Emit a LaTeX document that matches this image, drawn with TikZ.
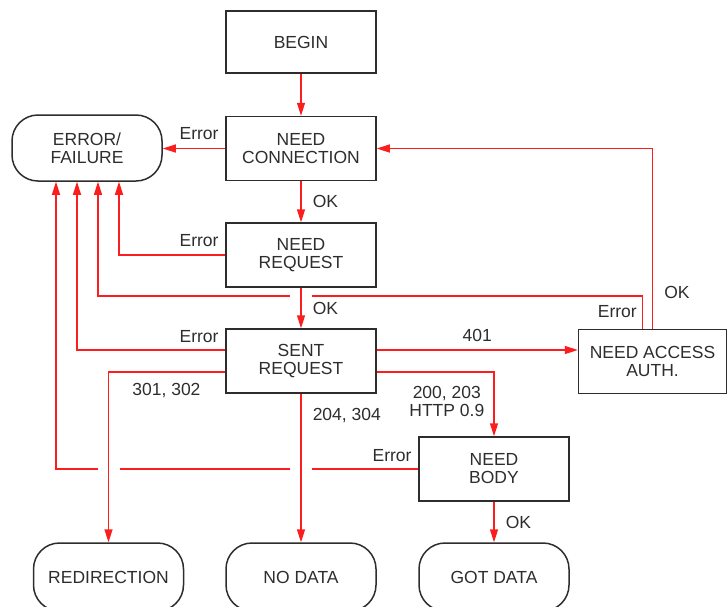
\documentclass[tikz,border=0pt]{standalone}
\usepackage{fontspec}
\setmainfont{Liberation Sans}
\usetikzlibrary{positioning,arrows.meta,calc}

\definecolor{flow}{RGB}{250,30,30}
\definecolor{ink}{RGB}{45,45,45}

\begin{document}
\begin{tikzpicture}[x=1pt,y=-1pt,>={Triangle[length=13pt,width=8pt]},
  font=\fontsize{17.5}{18}\selectfont,
  state/.style={draw=ink,line width=1.5pt,text=ink,minimum width=150pt,minimum height=64pt,align=center,inner sep=0pt},
  final/.style={state,rounded corners=26pt},
  wire/.style={draw=flow,line width=1.5pt},
  link/.style={wire,->},
  lbl/.style={text=ink,inner sep=2pt}]
\useasboundingbox (0,0) rectangle (727,606);

\node[state,minimum height=62pt] (begin) at (301,42) {BEGIN};
\node[state] (conn) at (301,148.5) {NEED\\CONNECTION};
\node[final,minimum height=66pt] (err) at (87,148) {ERROR/\\FAILURE};
\node[state] (req) at (301,255) {NEED\\REQUEST};
\node[state] (sent) at (301,361) {SENT\\REQUEST};
\node[state,minimum width=148pt] (auth) at (652.5,361.5) {NEED ACCESS\\AUTH.};
\node[state] (body) at (494,469) {NEED\\BODY};
\node[final,minimum height=68pt] (redir) at (108.5,577) {REDIRECTION};
\node[final,minimum height=68pt] (nodata) at (301,577) {NO DATA};
\node[final,minimum height=68pt] (gotdata) at (494,577) {GOT DATA};

\coordinate (e1) at ($(err.south)+(-31,0)$);
\coordinate (e2) at ($(err.south)+(-10,0)$);
\coordinate (e3) at ($(err.south)+(11,0)$);
\coordinate (e4) at ($(err.south)+(32,0)$);
\coordinate (xa) at ($(auth.north)+(-10,-33)$);

\draw[link] (begin) -- (conn);
\draw[link] (conn.west) -- node[lbl,pos=0,above left=6pt and 4pt] {Error} (conn.west -| err.east);
\draw[link] (conn) -- node[lbl,right=9pt] {OK} (req);
\draw[link] (req.west) -| node[lbl,pos=0,above left=6pt and 4pt] {Error} (e4);
\draw[link] (req) -- node[lbl,right=9pt] {OK} (sent);
\draw[link] ([yshift=11pt]sent.west) -| node[lbl,pos=0,above left=5pt and 4pt] {Error} (e2);
\draw[link] ([yshift=11pt]sent.east) -- node[lbl,above=6pt] {401} ([yshift=11pt]sent.east -| auth.west);
\draw[link] ([yshift=-11pt]sent.west) -| node[lbl,pos=0,below left=9pt and 22pt] {301, 302} (redir);
\draw[link] ([yshift=-11pt]sent.east) -| node[lbl,pos=0.5,below left=12pt and 7pt,align=center] {200, 203\\HTTP 0.9} (body);
\draw[link] (sent.south) -- node[lbl,pos=0,below right=12pt and 9pt] {204, 304} (nodata);
\draw[link] (body) -- node[lbl,right=9pt] {OK} (gotdata);
\draw[link] (auth.north) |- node[lbl,pos=0.1,right=9pt] {OK} (conn.east);
\draw[wire] ($(auth.north)+(-10,0)$) |- node[lbl,pos=0,above left=8pt and 3pt] {Error} ($(sent.north |- xa)+(11,0)$);
\draw[link] ($(sent.north |- xa)+(-11,0)$) -| (e3);
\draw[wire] (body.west) -- node[lbl,pos=0,above left=5pt and 4pt] {Error} ($(sent.south |- body.west)+(11,0)$);
\draw[wire] ($(sent.south |- body.west)+(-11,0)$) -- ($(redir.north |- body.west)+(11,0)$);
\draw[link] ($(redir.north |- body.west)+(-11,0)$) -| (e1);
\end{tikzpicture}
\end{document}
